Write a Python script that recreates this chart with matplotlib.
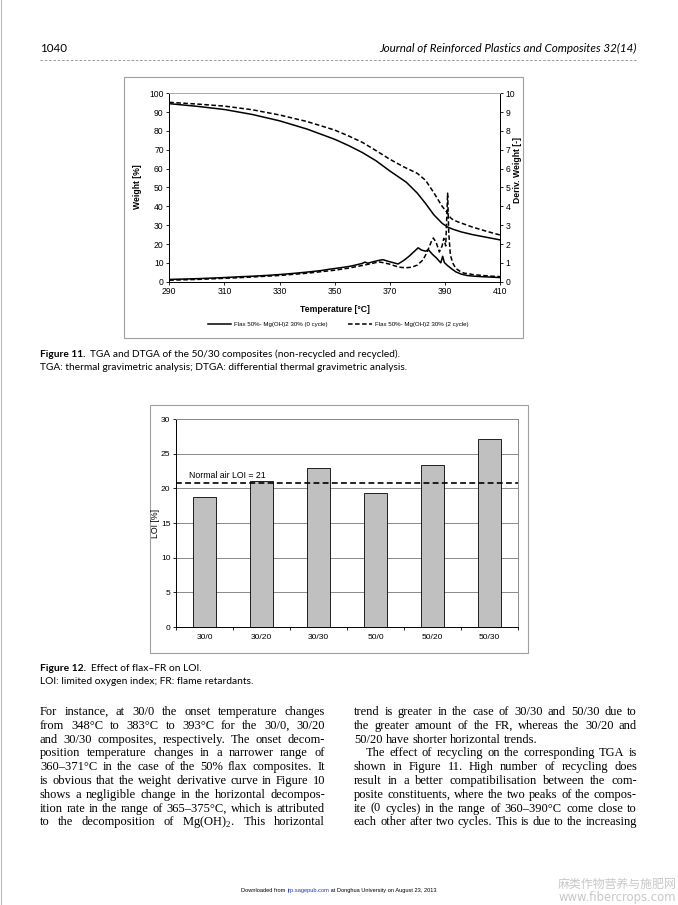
import matplotlib.pyplot as plt
import numpy as np
from matplotlib.patches import Rectangle
from matplotlib.lines import Line2D

W, H = 678, 905

# ---- Figure 11 data (TGA / DTGA of 50/30) ----
tga_t0 = [290, 300, 310, 320, 330, 340, 350, 355, 360, 365, 370, 373, 376, 380,
          383, 386, 389, 391, 393, 396, 400, 405, 410]
tga_w0 = [94.5, 93.1, 91.4, 88.8, 85.4, 81.0, 75.6, 72.3, 68.6, 64.2, 58.8, 55.8,
          52.8, 47.0, 41.5, 35.5, 31.0, 29.0, 27.8, 26.4, 25.0, 23.6, 22.2]
tga_t2 = [290, 300, 310, 320, 330, 340, 350, 355, 360, 365, 370, 375, 380, 383,
          386, 389, 391, 392, 393, 395, 400, 405, 410]
tga_w2 = [95.2, 94.3, 93.2, 91.3, 88.5, 85.0, 80.5, 77.4, 74.0, 69.6, 65.0, 61.0,
          57.5, 53.8, 47.2, 40.0, 36.4, 34.0, 32.8, 31.6, 29.0, 26.8, 24.8]

dtga_t0 = [290, 295, 300, 305, 310, 315, 320, 325, 330, 335, 340, 345, 348, 350,
           353, 356, 360, 361, 362, 364, 366, 367.5, 369, 371, 373, 375, 377, 379,
           380.3, 381.5, 383, 384, 385.5, 387, 388.5, 389.2, 389.8, 391, 392.5,
           394, 396, 398, 400, 403, 406, 410]
dtga_d0 = [0.12, 0.14, 0.16, 0.19, 0.22, 0.26, 0.29, 0.33, 0.38, 0.44, 0.51, 0.59,
           0.66, 0.70, 0.76, 0.83, 0.97, 1.04, 0.98, 1.06, 1.13, 1.17, 1.10, 1.02,
           0.94, 1.12, 1.35, 1.62, 1.80, 1.68, 1.62, 1.70, 1.45, 1.25, 1.00, 1.35,
           1.02, 0.85, 0.68, 0.52, 0.40, 0.33, 0.30, 0.27, 0.25, 0.22]
dtga_t2 = [290, 295, 300, 305, 310, 315, 320, 325, 330, 335, 340, 345, 350, 355,
           360, 363, 366, 368, 370, 372, 374, 376, 378, 380, 382, 383.5, 385, 385.8,
           386.8, 388, 389, 389.6, 390.3, 391.0, 391.4, 392, 393, 394, 395.5, 397,
           398.5, 400, 403, 406, 410]
dtga_d2 = [0.08, 0.10, 0.12, 0.15, 0.18, 0.21, 0.25, 0.29, 0.33, 0.39, 0.45, 0.53,
           0.61, 0.72, 0.86, 0.95, 1.05, 1.00, 0.93, 0.83, 0.76, 0.74, 0.77, 0.88,
           1.15, 1.55, 2.10, 2.32, 2.10, 1.58, 1.90, 2.30, 1.90, 4.70, 2.60, 1.40,
           0.95, 0.70, 0.55, 0.45, 0.43, 0.38, 0.34, 0.30, 0.27]
label_0 = 'Flax 50%- Mg(OH)2 30% (0 cycle)'
label_2 = 'Flax 50%- Mg(OH)2 30% (2 cycle)'

# ---- Figure 12 data (LOI) ----
loi_names = ['30/0', '30/20', '30/30', '50/0', '50/20', '50/30']
loi_values = [18.7, 21.1, 22.9, 19.3, 23.4, 27.1]
air_loi = 20.8

# ---- page text ----
left_col = [
    "For instance, at 30/0 the onset temperature changes",
    "from 348\u00b0C to 383\u00b0C to 393\u00b0C for the 30/0, 30/20",
    "and 30/30 composites, respectively. The onset decom-",
    "position temperature changes in a narrower range of",
    "360\u2013371\u00b0C in the case of the 50% flax composites. It",
    "is obvious that the weight derivative curve in Figure 10",
    "shows a negligible change in the horizontal decompos-",
    "ition rate in the range of 365\u2013375\u00b0C, which is attributed",
    "to the decomposition of Mg(OH)$_\\mathregular{2}$. This horizontal",
]
right_col = [
    "trend is greater in the case of 30/30 and 50/30 due to",
    "the greater amount of the FR, whereas the 30/20 and",
    "50/20 have shorter horizontal trends.",
    "The effect of recycling on the corresponding TGA is",
    "shown in Figure 11. High number of recycling does",
    "result in a better compatibilisation between the com-",
    "posite constituents, where the two peaks of the compos-",
    "ite (0 cycles) in the range of 360\u2013390\u00b0C come close to",
    "each other after two cycles. This is due to the increasing",
]


def fx(x):
    return x / W


def fy(y):
    return 1 - y / H


fig = plt.figure(figsize=(W / 100, H / 100), dpi=100)
fig.patch.set_facecolor('white')
rend = fig.canvas.get_renderer()


def text_width(t):
    return t.get_window_extent(rend).width


def put_line(x0, x1, y, line, size, justify=True, family='Liberation Serif'):
    words = line.split()
    texts = [fig.text(0, fy(y), w, fontsize=size, family=family, va='baseline')
             for w in words]
    widths = [text_width(t) for t in texts]
    if justify and len(words) > 1:
        gap = (x1 - x0 - sum(widths)) / (len(words) - 1)
    else:
        gap = size * 0.25 * 100 / 72
    x = x0
    for t, w in zip(texts, widths):
        t.set_x(fx(x))
        x += w + gap


def put_runs(x, y, runs, size, family):
    # runs: list of (text, kwargs) drawn one after the other
    for s, kw in runs:
        t = fig.text(fx(x), fy(y), s, fontsize=size, family=family, va='baseline', **kw)
        x += text_width(t)
    return x


LM, RM = 40, 637

# header
fig.text(fx(LM), fy(52), '1040', family='Lato', fontsize=8.3, va='baseline')
fig.text(fx(RM), fy(52), 'Journal of Reinforced Plastics and Composites 32(14)',
         family='Lato', style='italic', fontsize=8.4, ha='right', va='baseline')
fig.add_artist(Line2D([fx(LM), fx(RM)], [fy(60), fy(60)], color='#888888', lw=0.6,
                      ls=(0, (3, 2.2)), transform=fig.transFigure))
fig.add_artist(Line2D([fx(1), fx(1)], [0, 1], color='#bbbbbb', lw=0.8,
                      transform=fig.transFigure))

# ---------- Figure 11 ----------
fig.add_artist(Rectangle((fx(124), fy(338)), (523 - 124) / W, (338 - 77) / H, fill=False,
                         ec='#a0a0a0', lw=0.8, transform=fig.transFigure))
ax = fig.add_axes([fx(169.3), fy(281.7), (500 - 169.3) / W, (281.7 - 93.3) / H])
ax2 = ax.twinx()
ax.plot(tga_t0, tga_w0, color='black', lw=1.1)
ax.plot(tga_t2, tga_w2, color='black', lw=1.1, ls=(0, (3, 1.6)))
l0, = ax2.plot(dtga_t0, dtga_d0, color='black', lw=1.1, label=label_0)
l2, = ax2.plot(dtga_t2, dtga_d2, color='black', lw=1.1, ls=(0, (3, 1.6)), label=label_2)
ax.set_xlim(290, 410)
ax.set_ylim(0, 100)
ax2.set_ylim(0, 10)
ax.set_xticks(np.arange(290, 411, 20))
ax.set_yticks(np.arange(0, 101, 10))
ax2.set_yticks(np.arange(0, 11, 1))
for a in (ax, ax2):
    a.tick_params(labelsize=6.2, length=2.5, width=0.6, pad=1.5)
    for lab in a.get_xticklabels() + a.get_yticklabels():
        lab.set_family('Liberation Sans')
    a.spines['top'].set_color('#aaaaaa')
    for s in a.spines.values():
        s.set_linewidth(0.7)
fig.text(fx(138), fy(187), 'Weight [%]', rotation=90, ha='center', va='center',
         family='Liberation Sans', weight='bold', fontsize=6.2)
fig.text(fx(517), fy(170), 'Deriv. Weight [-]', rotation=90, ha='center', va='center',
         family='Liberation Sans', weight='bold', fontsize=6.2)
fig.text(fx(335), fy(309), 'Temperature [\u00b0C]', ha='center', va='center',
         family='Liberation Sans', weight='bold', fontsize=6.2)
fig.legend([l0, l2], [label_0, label_2], loc='center', bbox_to_anchor=(fx(338), fy(324)),
           ncol=2, frameon=False, handlelength=3.8, columnspacing=3.4, handletextpad=0.5,
           prop={'family': 'Liberation Sans', 'size': 4.4})

# caption 11
x = put_runs(LM, 357, [('Figure 11.', {'weight': 'bold'})], 7.3, 'Lato')
put_runs(x + 5, 357, [('TGA and DTGA of the 50/30 composites (non-recycled and recycled).', {})],
         7.3, 'Lato')
put_runs(LM, 370, [('TGA: thermal gravimetric analysis; DTGA: differential thermal '
                    'gravimetric analysis.', {})], 7.3, 'Lato')

# ---------- Figure 12 ----------
fig.add_artist(Rectangle((fx(150), fy(653)), (528 - 150) / W, (653 - 405) / H, fill=False,
                         ec='#a0a0a0', lw=0.8, transform=fig.transFigure))
bx = fig.add_axes([fx(176), fy(627), (518 - 176) / W, (627 - 419) / H])
pos = np.arange(len(loi_names))
bx.bar(pos, loi_values, width=0.4, color='#c0c0c0', edgecolor='black', lw=0.6, zorder=3)
bx.axhline(air_loi, color='black', lw=1.2, ls=(0, (3.5, 2)), zorder=4)
bx.text(-0.28, 21.8, 'Normal air LOI = 21', ha='left', va='center',
        family='Liberation Sans', fontsize=6.3)
bx.set_xlim(-0.5, len(loi_names) - 0.5)
bx.set_ylim(0, 30)
bx.set_yticks(np.arange(0, 31, 5))
bx.set_xticks(pos)
bx.set_xticklabels(loi_names)
bx.set_xticks(np.arange(-0.5, len(loi_names), 1), minor=True)
bx.tick_params(axis='x', which='major', length=0, pad=5)
bx.tick_params(axis='x', which='minor', length=2.5, width=0.6)
bx.tick_params(axis='y', length=2.5, width=0.6, pad=1.5)
bx.tick_params(labelsize=6.1)
for lab in bx.get_xticklabels() + bx.get_yticklabels():
    lab.set_family('Liberation Sans')
bx.yaxis.grid(True, color='#8a8a8a', lw=0.7)
bx.set_axisbelow(True)
bx.spines['top'].set_color('#8a8a8a')
bx.spines['right'].set_color('#8a8a8a')
for s in bx.spines.values():
    s.set_linewidth(0.7)
fig.text(fx(156), fy(523), 'LOI [%]', rotation=90, ha='center', va='center',
         family='Liberation Sans', fontsize=6.3)

# caption 12
x = put_runs(LM, 671, [('Figure 12.', {'weight': 'bold'})], 7.4, 'Lato')
put_runs(x + 5, 671, [('Effect of flax\u2013FR on LOI.', {})], 7.4, 'Lato')
put_runs(LM, 684, [('LOI: limited oxygen index; FR: flame retardants.', {})], 7.4, 'Lato')

# ---------- body text ----------
col_a = (LM, 325)
col_b = (354, RM)
for i, line in enumerate(left_col):
    put_line(col_a[0], col_a[1], 715 + i * 13.8, line, 9.0)
for i, line in enumerate(right_col):
    y = 715 + i * 13.8
    if i == 2:
        put_line(col_b[0], col_b[1], y, line, 9.0, justify=False)
    elif i == 3:
        put_line(col_b[0] + 12, col_b[1], y, line, 9.0)
    else:
        put_line(col_b[0], col_b[1], y, line, 9.0)

# footer
foot = [('Downloaded from ', {}), ('jrp.sagepub.com', {'color': '#2233bb'}),
        (' at Donghua University on August 23, 2013', {})]
put_runs(241, 892, foot, 4.1, 'Liberation Sans')

# watermark
fig.text(fx(676), fy(884), '\u9ebb\u7c7b\u4f5c\u7269\u8425\u517b\u4e0e\u65bd\u80a5\u7f51',
         family='Noto Sans CJK SC', fontsize=8.6, color='#c8c8c8', ha='right', va='center')
fig.text(fx(676), fy(897), 'www.fibercrops.com', family='DejaVu Sans', fontsize=8.4,
         color='#c8c8c8', ha='right', va='center')

fig.savefig('out.png', dpi=100)
